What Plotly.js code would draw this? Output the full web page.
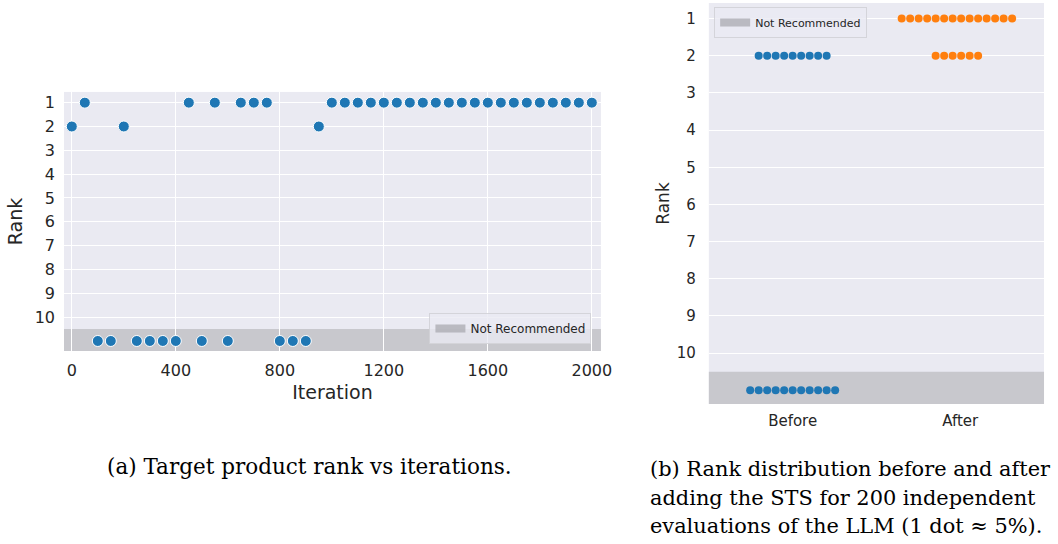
<!DOCTYPE html>
<html>
<head>
<meta charset="utf-8">
<script src="https://cdn.plot.ly/plotly-3.0.1.min.js"></script>
<style>html,body{margin:0;padding:0;background:#fff;}#chart{width:1058px;height:544px;}</style>
</head>
<body>
<div id="chart"></div>
<script>
// ---- Data: (a) target product rank vs iterations (11 = Not Recommended) ----
const iterations = [0,50,100,150,200,250,300,350,400,450,500,550,600,650,700,750,800,850,900,950,
  1000,1050,1100,1150,1200,1250,1300,1350,1400,1450,1500,1550,1600,1650,1700,1750,1800,1850,1900,1950,2000];
const ranks = [2,1,11,11,2,11,11,11,11,1,11,1,11,1,1,1,11,11,11,2,
  1,1,1,1,1,1,1,1,1,1,1,1,1,1,1,1,1,1,1,1,1];

// ---- Data: (b) rank distribution, one dot per ~5% of 200 evaluations ----
const categories = ['Before', 'After'];
const beforeRanks = [2,2,2,2,2,2,2,2,2,11,11,11,11,11,11,11,11,11,11,11];
const afterRanks = [1,1,1,1,1,1,1,1,1,1,1,1,1,1,2,2,2,2,2,2];
const rankTicks = [1,2,3,4,5,6,7,8,9,10];
const notRecLabel = 'Not Recommended';

const BLUE = '#1f77b4', ORANGE = '#ff7f0e';
const BG = '#EAEAF2', TXT = '#262626';

// swarm layout: spread dots of equal rank horizontally around the category center
function swarm(vals, center, step) {
  const counts = {}, seen = {};
  vals.forEach(v => counts[v] = (counts[v] || 0) + 1);
  return vals.map(v => {
    const i = seen[v] || 0; seen[v] = i + 1;
    return center + (i - (counts[v] - 1) / 2) * step;
  });
}
const step = 0.0507;

const traces = [
  {x: iterations, y: ranks, type: 'scatter', mode: 'markers', xaxis: 'x', yaxis: 'y', showlegend: false,
   marker: {color: BLUE, size: 11, line: {color: '#ffffff', width: 1}}},
  {x: swarm(beforeRanks, 0, step), y: beforeRanks, type: 'scatter', mode: 'markers', xaxis: 'x2', yaxis: 'y2',
   showlegend: false, marker: {color: BLUE, size: 8, line: {width: 0}}},
  {x: swarm(afterRanks, 0.98, step), y: afterRanks, type: 'scatter', mode: 'markers', xaxis: 'x2', yaxis: 'y2',
   showlegend: false, marker: {color: ORANGE, size: 8, line: {width: 0}}},
  // legend entries for the shaded "Not Recommended" band
  {x: [null], y: [null], type: 'scatter', mode: 'lines', xaxis: 'x', yaxis: 'y', name: notRecLabel,
   legend: 'legend', line: {color: 'rgba(170,170,176,0.75)', width: 8}},
  {x: [null], y: [null], type: 'scatter', mode: 'lines', xaxis: 'x2', yaxis: 'y2', name: notRecLabel,
   legend: 'legend2', line: {color: 'rgba(170,170,176,0.75)', width: 8}}
];

const tickFont = {family: 'DejaVu Sans', size: 16, color: TXT};
const capFontA = {family: 'DejaVu Serif', size: 21.5, color: '#000'};
const capFontB = {family: 'DejaVu Serif', size: 20.9, color: '#000'};
const layout = {
  width: 1058, height: 544,
  margin: {l: 0, r: 0, t: 0, b: 0},
  paper_bgcolor: '#ffffff', plot_bgcolor: BG,
  font: {family: 'DejaVu Sans', color: TXT},
  xaxis: {domain: [0.0605, 0.568], anchor: 'y', range: [-30, 2035], tickvals: [0,400,800,1200,1600,2000],
    showgrid: true, gridcolor: '#ffffff', gridwidth: 1, zeroline: false, showline: false,
    tickfont: tickFont, ticks: '', ticklabelstandoff: 8,
    title: {text: 'Iteration', font: {family: 'DejaVu Sans', size: 19, color: TXT}, standoff: 6}},
  yaxis: {domain: [0.3548, 0.831], anchor: 'x', range: [11.42, 0.55], tickvals: rankTicks,
    showgrid: true, gridcolor: '#ffffff', gridwidth: 1, zeroline: false, showline: false,
    tickfont: tickFont, ticks: '', ticklabelstandoff: 8,
    title: {text: 'Rank', font: {family: 'DejaVu Sans', size: 19, color: TXT}, standoff: 6}},
  xaxis2: {domain: [0.670, 0.9868], anchor: 'y2', range: [-0.5, 1.5], tickvals: [0, 1], ticktext: categories,
    showgrid: false, zeroline: false, showline: false, ticks: '', ticklabelstandoff: 6,
    tickfont: {family: 'DejaVu Sans', size: 15, color: TXT}},
  yaxis2: {domain: [0.2574, 0.9945], anchor: 'x2', range: [11.37, 0.58], tickvals: rankTicks,
    showgrid: true, gridcolor: '#ffffff', gridwidth: 1, zeroline: false, showline: false,
    ticks: '', ticklabelstandoff: 12, tickfont: {family: 'DejaVu Sans', size: 15, color: TXT},
    title: {text: 'Rank', font: {family: 'DejaVu Sans', size: 17, color: TXT}, standoff: 2}},
  shapes: [
    {type: 'rect', xref: 'x domain', yref: 'y', x0: 0, x1: 1, y0: 10.5, y1: 12, layer: 'below',
     fillcolor: '#C8C8CD', line: {width: 0}},
    {type: 'rect', xref: 'x2 domain', yref: 'y2', x0: 0, x1: 1, y0: 10.5, y1: 12, layer: 'below',
     fillcolor: '#C8C8CD', line: {width: 0}}
  ],
  legend: {x: 0.559, y: 1 - 344/544, xanchor: 'right', yanchor: 'bottom',
    bgcolor: 'rgba(234,234,242,0.8)', bordercolor: 'rgba(210,210,215,0.9)', borderwidth: 1,
    font: {family: 'DejaVu Sans', size: 12, color: TXT}, itemwidth: 30},
  legend2: {x: 0.675, y: 1 - 7/544, xanchor: 'left', yanchor: 'top',
    bgcolor: 'rgba(234,234,242,0.8)', bordercolor: 'rgba(210,210,215,0.9)', borderwidth: 1,
    font: {family: 'DejaVu Sans', size: 11, color: TXT}, itemwidth: 30},
  annotations: [
    {text: '(a) Target product rank vs iterations.', xref: 'paper', yref: 'paper',
     x: 309.5/1058, y: 1 - 466/544, xanchor: 'center', yanchor: 'middle', showarrow: false, font: capFontA},
    {text: '(b) Rank distribution before and after', xref: 'paper', yref: 'paper',
     x: 648/1058, y: 1 - 469/544, xanchor: 'left', yanchor: 'middle', showarrow: false, font: capFontB},
    {text: 'adding the STS for 200 independent', xref: 'paper', yref: 'paper',
     x: 648/1058, y: 1 - 498/544, xanchor: 'left', yanchor: 'middle', showarrow: false, font: capFontB},
    {text: 'evaluations of the LLM (1 dot \u2248 5%).', xref: 'paper', yref: 'paper',
     x: 648/1058, y: 1 - 526/544, xanchor: 'left', yanchor: 'middle', showarrow: false, font: capFontB}
  ]
};

Plotly.newPlot('chart', traces, layout, {displayModeBar: false, staticPlot: true});
</script>
</body>
</html>
